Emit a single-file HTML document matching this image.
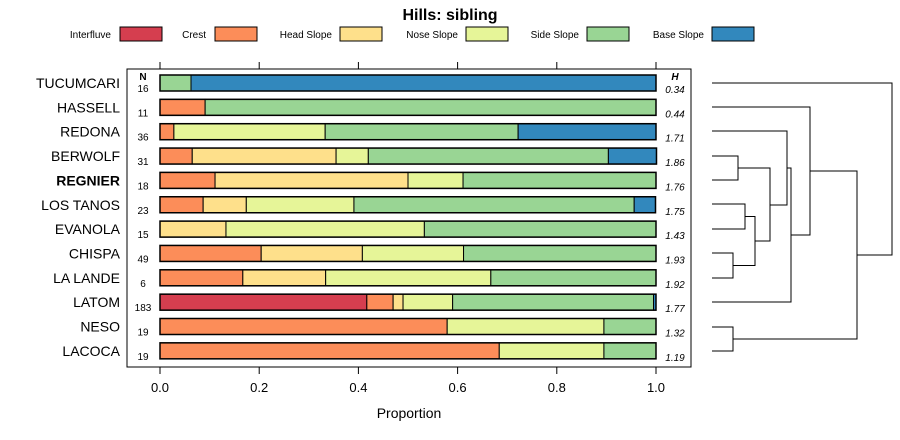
<!DOCTYPE html>
<html><head><meta charset="utf-8"><style>
body{margin:0;background:#fff;}
svg{display:block;font-family:"Liberation Sans",sans-serif;}
</style></head><body>
<svg id="chart" width="900" height="440">
<text x="450" y="20" text-anchor="middle" font-size="16" font-weight="bold">Hills: sibling</text>
<g id="legend"></g>
<rect x="127" y="69" width="564" height="298" fill="none" stroke="#000" stroke-width="1"/>
<g id="bars"></g>
<g id="axis"></g>
<text x="409" y="418" text-anchor="middle" font-size="14">Proportion</text>
<text x="143" y="80" text-anchor="middle" font-size="10" font-weight="bold">N</text>
<text x="675" y="80" text-anchor="middle" font-size="10" font-weight="bold" font-style="italic">H</text>
<g fill="none" stroke="#000" stroke-width="1">
<path d="M712 156H738V180H712"/>
<path d="M712 204H745V229H712"/>
<path d="M712 253H733V278H712"/>
<path d="M745 216.5H755V265.5H733"/>
<path d="M738 168H770V241H755"/>
<path d="M712 131H787V205H770"/>
<path d="M787 168H791V302H712"/>
<path d="M712 107H810V235H791"/>
<path d="M712 327H733V351H712"/>
<path d="M733 339H857V171H810"/>
<path d="M712 83H892V255H857"/>
</g>
</svg>
<script>
const classes=["Interfluve","Crest","Head Slope","Nose Slope","Side Slope","Base Slope"];
const colors=["#d53e4f","#fc8d59","#fee08b","#e6f598","#99d594","#3288bd"];
const sites=["TUCUMCARI","HASSELL","REDONA","BERWOLF","REGNIER","LOS TANOS","EVANOLA","CHISPA","LA LANDE","LATOM","NESO","LACOCA"];
const counts=[16,11,36,31,18,23,15,49,6,183,19,19];
const entropy=["0.34","0.44","1.71","1.86","1.76","1.75","1.43","1.93","1.92","1.77","1.32","1.19"];
const interfluve=[0,0,0,0,0,0,0,0,0,0.417,0,0];
const crest=[0,0.091,0.028,0.065,0.111,0.087,0,0.204,0.167,0.053,0.579,0.684];
const headSlope=[0,0,0,0.29,0.389,0.087,0.133,0.204,0.167,0.02,0,0];
const noseSlope=[0,0,0.305,0.065,0.111,0.217,0.4,0.204,0.333,0.1,0.316,0.211];
const sideSlope=[0.0625,0.909,0.389,0.484,0.389,0.565,0.467,0.388,0.333,0.405,0.105,0.105];
const baseSlope=[0.9375,0,0.278,0.097,0,0.043,0,0,0,0.005,0,0];
const ticks=[0,0.2,0.4,0.6,0.8,1.0];
const tickLabels=["0.0","0.2","0.4","0.6","0.8","1.0"];
const series=[interfluve,crest,headSlope,noseSlope,sideSlope,baseSlope];
const NS="http://www.w3.org/2000/svg";
const x=v=>160+v*496;
const y=i=>83+i*24.35;
function mk(tag,attrs,parent){const e=document.createElementNS(NS,tag);for(const k in attrs)e.setAttribute(k,attrs[k]);parent.appendChild(e);return e;}
const bars=document.getElementById('bars');
sites.forEach((s,i)=>{
  const cy=y(i);
  const lab=mk('text',{x:120,y:cy+5,'text-anchor':'end','font-size':14,'font-weight':s==="REGNIER"?"bold":"normal"},bars);
  lab.textContent=s;
  
  
  const n=mk('text',{x:143,y:cy+9,'text-anchor':'middle','font-size':10},bars);
  n.textContent=counts[i];
  
  
  const h=mk('text',{x:675,y:cy+10,'text-anchor':'middle','font-size':10,'font-style':'italic'},bars);
  h.textContent=entropy[i];
  
  
  let acc=0;
  series.forEach((arr,k)=>{
    const v=arr[i]; if(v<=0)return;
    const r=mk('rect',{x:x(acc),y:cy-8,width:x(acc+v)-x(acc),height:16,fill:colors[k],stroke:'#000','stroke-width':1},bars);
    
    
    acc+=v;
  });
  const o=mk('rect',{x:x(0),y:cy-8,width:x(acc)-x(0),height:16,fill:'none',stroke:'#000','stroke-width':1.5},bars);
  
  
});
const axis=document.getElementById('axis');
ticks.forEach((t,i)=>{
  mk('line',{x1:x(t),x2:x(t),y1:62,y2:69,stroke:'#000'},axis);
  mk('line',{x1:x(t),x2:x(t),y1:367,y2:374,stroke:'#000'},axis);
  const tl=mk('text',{x:x(t),y:392,'text-anchor':'middle','font-size':13},axis);
  tl.textContent=tickLabels[i];
  
  
});
const legend=document.getElementById('legend');
const lx=[[111,120],[206,215],[332,340],[458,466],[579,587],[704,712]];
classes.forEach((c,k)=>{
  const t=mk('text',{x:lx[k][0],y:38,'text-anchor':'end','font-size':10},legend);
  t.textContent=c;
  
  
  const r=mk('rect',{x:lx[k][1],y:27,width:42,height:14,fill:colors[k],stroke:'#000'},legend);
  
  
});
</script>
</body></html>
